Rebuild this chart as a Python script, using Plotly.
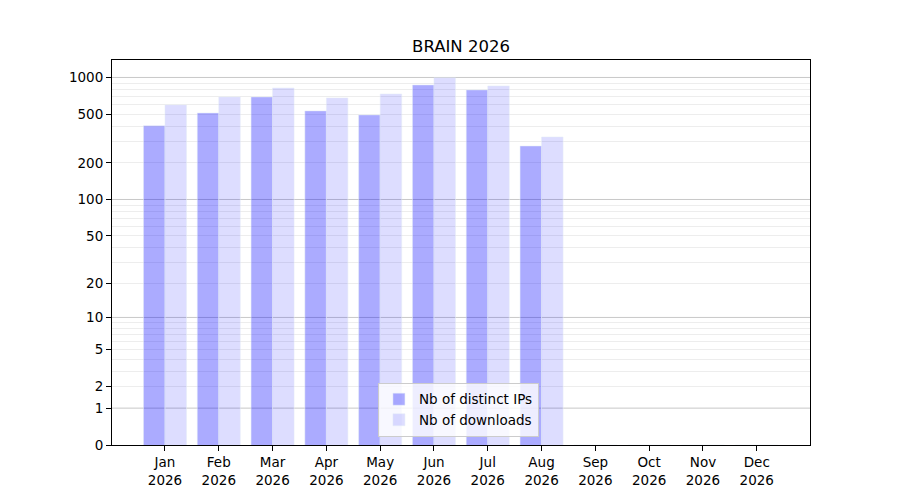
import plotly.graph_objects as go

months = ["Jan", "Feb", "Mar", "Apr", "May", "Jun", "Jul", "Aug", "Sep", "Oct", "Nov", "Dec"]
year = "2026"
distinct_ips = [402, 513, 693, 533, 494, 868, 791, 275, 0, 0, 0, 0]
downloads = [596, 693, 821, 680, 733, 996, 853, 326, 0, 0, 0, 0]

# symlog-like axis: plot count+1 on a log axis
tick_counts = [0, 1, 2, 5, 10, 20, 50, 100, 200, 500, 1000]
decades = [1, 10, 100, 1000]
minor_counts = [m * d for d in [1, 10, 100] for m in range(2, 10)]

labels = [m + "<br>" + year for m in months]

fig = go.Figure()
fig.add_trace(go.Bar(
    x=labels, y=[v + 1 for v in distinct_ips], customdata=distinct_ips,
    name="Nb of distinct IPs", marker_color="rgba(0,0,255,0.33)",
    hovertemplate="%{customdata}<extra></extra>"))
fig.add_trace(go.Bar(
    x=labels, y=[v + 1 for v in downloads], customdata=downloads,
    name="Nb of downloads", marker_color="rgba(0,0,255,0.133)",
    hovertemplate="%{customdata}<extra></extra>"))

# darker grid lines on the decades
for d in decades:
    fig.add_shape(type="line", xref="paper", x0=0, x1=1, yref="y", y0=d + 1, y1=d + 1,
                  line=dict(color="rgba(0,0,0,0.22)", width=1), layer="below")

fig.update_layout(
    width=900, height=500,
    margin=dict(l=104, r=98, t=52, b=63),
    plot_bgcolor="white", paper_bgcolor="white",
    font=dict(family="DejaVu Sans", size=13.5, color="black"),
    title=dict(text="BRAIN 2026", x=0.5, xref="paper", xanchor="center",
               y=1 - 38 / 500, yanchor="middle", font=dict(size=16.5)),
    barmode="group", bargap=0.2, bargroupgap=0,
    legend=dict(x=0.381, y=0.021, xanchor="left", yanchor="bottom",
                bgcolor="rgba(255,255,255,0.8)", bordercolor="#cccccc",
                borderwidth=1, font=dict(size=13.5), tracegroupgap=0),
    xaxis=dict(range=[-0.985, 11.99], showline=True, mirror=True,
               linecolor="black", linewidth=1, ticks="outside", ticklen=5,
               tickcolor="black", showgrid=False),
    yaxis=dict(type="log", range=[0, 3.143], showline=True, mirror=True,
               linecolor="black", linewidth=1, ticks="outside", ticklen=5,
               tickcolor="black", tickmode="array",
               tickvals=[c + 1 for c in tick_counts],
               ticktext=[str(c) for c in tick_counts],
               showgrid=False, zeroline=False,
               minor=dict(tickmode="array", tickvals=[c + 1 for c in minor_counts],
                          showgrid=True, gridcolor="rgba(0,0,0,0.07)", ticks="")),
)

fig.write_html("out.html")
